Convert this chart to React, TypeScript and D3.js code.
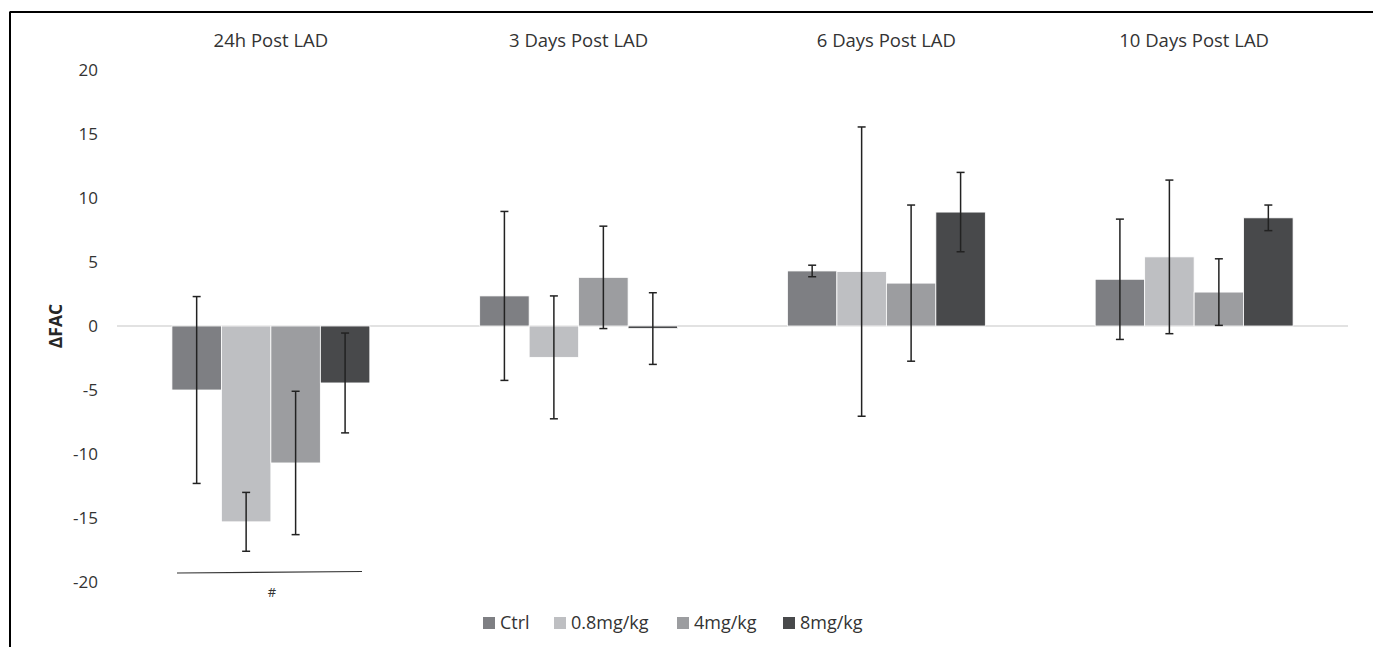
import React from 'react';
import * as d3 from 'd3';

const timepoints = ['24h Post LAD', '3 Days Post LAD', '6 Days Post LAD', '10 Days Post LAD'];
const series = ['Ctrl', '0.8mg/kg', '4mg/kg', '8mg/kg'];
const colors = ['#7e7f83', '#bebfc2', '#9c9da0', '#48494b'];

// mean per timepoint, one array per dose
const ctrlMean = [-5.0, 2.35, 4.3, 3.65];
const low08Mean = [-15.3, -2.45, 4.25, 5.4];
const mid4Mean = [-10.7, 3.8, 3.35, 2.65];
const high8Mean = [-4.45, -0.2, 8.9, 8.45];

// error (±)
const ctrlErr = [7.3, 6.6, 0.45, 4.7];
const low08Err = [2.3, 4.8, 11.3, 6.0];
const mid4Err = [5.6, 4.0, 6.1, 2.6];
const high8Err = [3.9, 2.8, 3.1, 1.0];

const yTicks = [20, 15, 10, 5, 0, -5, -10, -15, -20];

const means = [ctrlMean, low08Mean, mid4Mean, high8Mean];
const errs = [ctrlErr, low08Err, mid4Err, high8Err];

const W = 1373;
const H = 647;
const font = '"Open Sans", "Liberation Sans", sans-serif';

export default function App() {
  const x0 = d3.scaleBand<string>().domain(timepoints).range([117, 1348]);
  const x1 = d3.scaleBand<string>().domain(series).range([0, x0.bandwidth()]).paddingInner(0).paddingOuter(1.11);
  const y = d3.scaleLinear().domain([-20, 20]).range([582, 70]);

  return (
    <svg width={W} height={H} style={{ position: 'absolute', left: 0, top: 0 }} fontFamily={font}>
      <rect x={0} y={0} width={W} height={H} fill="#fff" />
      {/* frame */}
      <line x1={9.5} y1={12} x2={W} y2={12} stroke="#000" strokeWidth={2} />
      <line x1={10} y1={12} x2={10} y2={H} stroke="#000" strokeWidth={2} />

      {/* y labels */}
      {yTicks.map(t => (
        <text key={t} x={98} y={y(t)} dy="0.35em" textAnchor="end" fontSize={17} fill="#333">{t}</text>
      ))}
      <text transform={`translate(62,${y(0)}) rotate(-90)`} textAnchor="middle" fontSize={17.5} fontWeight="bold" fill="#262626">ΔFAC</text>

      {/* group titles */}
      {timepoints.map(tp => (
        <text key={tp} x={(x0(tp) as number) + x0.bandwidth() / 2} y={47} textAnchor="middle" fontSize={18.5} fill="#333">{tp}</text>
      ))}

      {/* zero line */}
      <line x1={117} x2={1348} y1={y(0)} y2={y(0)} stroke="#d9d9d9" strokeWidth={1.5} />

      {/* bars */}
      {timepoints.map((tp, ti) => (
        <g key={tp} transform={`translate(${x0(tp)},0)`}>
          {series.map((s, si) => {
            const v = means[si][ti];
            return (
              <rect key={s} x={x1(s)} width={x1.bandwidth()} y={Math.min(y(v), y(0))} height={Math.abs(y(v) - y(0))}
                fill={colors[si]} stroke="#fff" strokeWidth={0.8} />
            );
          })}
          {series.map((s, si) => {
            const v = means[si][ti];
            const e = errs[si][ti];
            const cx = (x1(s) as number) + x1.bandwidth() / 2;
            return (
              <g key={s} stroke="#222" strokeWidth={1.5}>
                <line x1={cx} x2={cx} y1={y(v + e)} y2={y(v - e)} />
                <line x1={cx - 4} x2={cx + 4} y1={y(v + e)} y2={y(v + e)} />
                <line x1={cx - 4} x2={cx + 4} y1={y(v - e)} y2={y(v - e)} />
              </g>
            );
          })}
        </g>
      ))}

      {/* significance mark */}
      <line x1={177} y1={573} x2={362} y2={571.5} stroke="#333" strokeWidth={1.2} />
      <text x={272} y={597} textAnchor="middle" fontSize={13} fill="#333">#</text>

      {/* legend */}
      {series.map((s, si) => {
        const lx = [483, 554, 677, 783][si];
        return (
          <g key={s}>
            <rect x={lx} y={617} width={12} height={12} fill={colors[si]} />
            <text x={lx + 17} y={623} dy="0.35em" fontSize={18} fill="#333">{s}</text>
          </g>
        );
      })}
    </svg>
  );
}
